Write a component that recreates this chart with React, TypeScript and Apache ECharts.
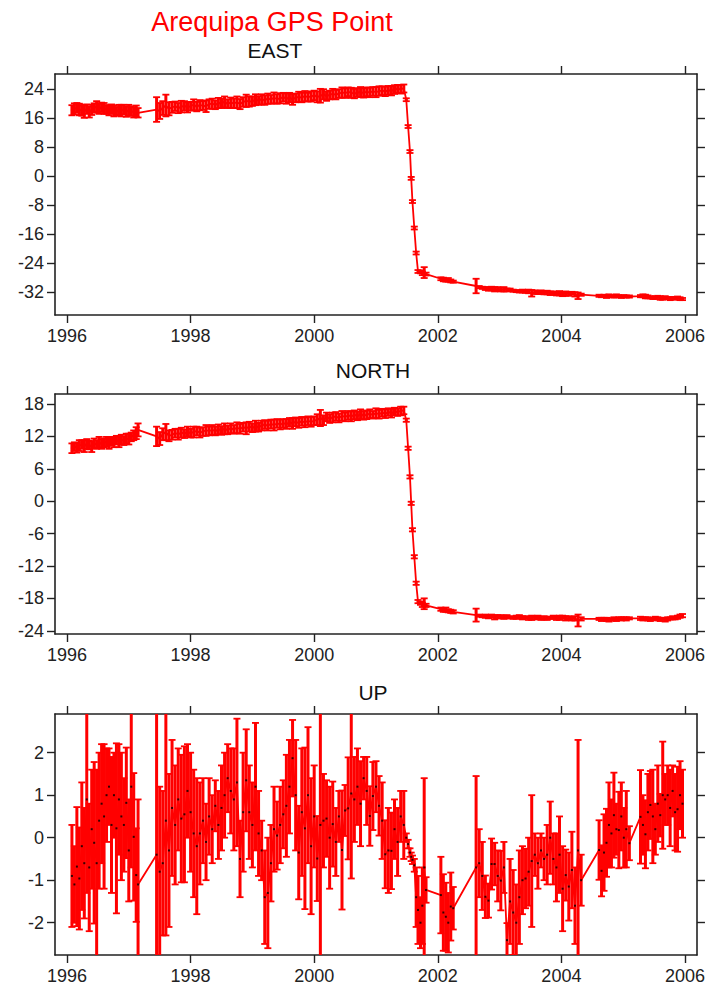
import React, { useEffect, useRef } from 'react';
import * as echarts from 'echarts';

// ---------- DATA ----------
const mainTitle = 'Arequipa GPS Point';
const panelTitles = ['EAST', 'NORTH', 'UP'];

const xTicks = [1996, 1998, 2000, 2002, 2004, 2006];
const eastTicks = [-32, -24, -16, -8, 0, 8, 16, 24];
const northTicks = [-24, -18, -12, -6, 0, 6, 12, 18];
const upTicks = [-2, -1, 0, 1, 2];

// epochs (decimal years)
const years = [
  // 1996.08 - 1997.15
  1996.08, 1996.12, 1996.16, 1996.20, 1996.24, 1996.28, 1996.32, 1996.36, 1996.40, 1996.44,
  1996.48, 1996.52, 1996.56, 1996.60, 1996.64, 1996.68, 1996.72, 1996.76, 1996.80, 1996.84,
  1996.88, 1996.92, 1996.96, 1997.00, 1997.04, 1997.08, 1997.12, 1997.15,
  // 1997.45 - 2001.45
  1997.45, 1997.50, 1997.55, 1997.60, 1997.65, 1997.70, 1997.75, 1997.80, 1997.85, 1997.90, 1997.95,
  1998.00, 1998.05, 1998.10, 1998.15, 1998.20, 1998.25, 1998.30, 1998.35, 1998.40, 1998.45,
  1998.50, 1998.55, 1998.60, 1998.65, 1998.70, 1998.75, 1998.80, 1998.85, 1998.90, 1998.95,
  1999.00, 1999.05, 1999.10, 1999.15, 1999.20, 1999.25, 1999.30, 1999.35, 1999.40, 1999.45,
  1999.50, 1999.55, 1999.60, 1999.65, 1999.70, 1999.75, 1999.80, 1999.85, 1999.90, 1999.95,
  2000.00, 2000.05, 2000.10, 2000.15, 2000.20, 2000.25, 2000.30, 2000.35, 2000.40, 2000.45,
  2000.50, 2000.55, 2000.60, 2000.65, 2000.70, 2000.75, 2000.80, 2000.85, 2000.90, 2000.95,
  2001.00, 2001.05, 2001.10, 2001.15, 2001.20, 2001.25, 2001.30, 2001.35, 2001.40, 2001.45,
  // earthquake
  2001.49, 2001.52, 2001.55, 2001.57, 2001.59, 2001.62, 2001.65, 2001.68,
  2001.72, 2001.75, 2001.78, 2001.81,
  2002.05, 2002.09, 2002.13, 2002.17, 2002.21, 2002.25,
  // 2002.62 - 2004.32
  2002.62, 2002.67, 2002.72, 2002.77, 2002.82, 2002.87, 2002.92, 2002.97,
  2003.02, 2003.07, 2003.12, 2003.17, 2003.22, 2003.27, 2003.32, 2003.37, 2003.42, 2003.47,
  2003.52, 2003.57, 2003.62, 2003.67, 2003.72, 2003.77, 2003.82, 2003.87, 2003.92, 2003.97,
  2004.02, 2004.07, 2004.12, 2004.17, 2004.22, 2004.27, 2004.32,
  // 2004.61 - 2005.10
  2004.61, 2004.65, 2004.69, 2004.73, 2004.77, 2004.81, 2004.85, 2004.89, 2004.93, 2004.97,
  2005.01, 2005.05, 2005.10,
  // 2005.28 - 2005.96
  2005.28, 2005.32, 2005.36, 2005.40, 2005.44, 2005.48, 2005.52, 2005.56, 2005.60, 2005.64,
  2005.68, 2005.72, 2005.76, 2005.80, 2005.84, 2005.88, 2005.92, 2005.96,
];

const east = [
  18.2, 18.6, 18.9, 18.4, 18.1, 17.9, 18.5, 17.7, 18.3, 18.9,
  19.1, 18.6, 19.0, 18.7, 18.4, 18.2, 18.5, 18.0, 17.9, 18.3,
  18.1, 18.4, 17.8, 18.2, 18.0, 17.6, 17.9, 17.5,
  18.4, 18.0, 18.8, 19.5, 18.6, 19.0, 19.3, 18.8, 19.2, 19.4, 19.0,
  19.3, 19.7, 19.2, 19.6, 19.5, 19.3, 19.9, 20.0, 19.7, 20.2,
  20.1, 20.5, 20.0, 20.3, 20.1, 20.4, 19.9, 20.5, 20.8, 20.6,
  20.7, 21.1, 20.9, 21.2, 21.0, 21.4, 21.2, 21.6, 21.3, 21.5,
  21.8, 21.4, 21.7, 21.2, 21.6, 21.9, 21.7, 22.1, 21.8, 22.0,
  22.3, 21.9, 22.2, 22.6, 22.1, 22.4, 22.7, 22.5, 22.8, 23.1,
  22.9, 23.3, 23.0, 22.8, 23.1, 23.2, 23.0, 23.3, 23.1, 23.4,
  23.2, 23.5, 23.6, 23.4, 23.7, 23.6, 23.9, 24.1, 24.0, 24.2,
  21.1, 13.7, 6.8, -0.6, -7.0, -14.3, -21.2, -26.3,
  -26.4, -26.8, -26.6, -27.0,
  -28.3, -28.5, -28.7, -28.6, -28.9, -29.1,
  -30.3, -30.6, -30.8, -31.0, -31.1, -31.0, -31.2, -31.1,
  -31.3, -31.2, -31.4, -31.3, -31.6, -31.7, -31.8, -31.7, -31.9, -31.8,
  -32.3, -32.0, -32.1, -32.0, -32.2, -32.1, -32.3, -32.2, -32.4, -32.3,
  -32.6, -32.4, -32.5, -32.3, -32.6, -33.0, -32.7,
  -33.0, -33.1, -33.0, -33.2, -32.9, -33.1, -33.2, -33.0, -33.1, -33.3,
  -33.1, -33.2, -33.2,
  -33.1, -33.0, -33.2, -33.3, -33.4, -33.6, -33.5, -33.3, -33.6, -33.7,
  -33.5, -33.6, -33.8, -33.6, -33.7, -33.5, -33.8, -33.9,
];

const eastErr = [
  1.4, 1.5, 1.3, 1.6, 1.4, 1.8, 1.3, 1.5, 1.4, 1.2,
  1.6, 1.4, 1.3, 1.5, 1.2, 1.4, 1.3, 1.5, 1.2, 1.4,
  1.6, 1.3, 1.4, 1.5, 1.3, 1.4, 1.6, 1.3,
  3.4, 2.2, 1.9, 3.0, 1.8, 1.5, 1.3, 1.4, 1.6, 1.3, 1.4,
  1.2, 1.5, 1.3, 1.4, 1.2, 1.6, 1.3, 1.4, 1.2, 1.4,
  1.3, 1.5, 1.2, 1.4, 1.3, 1.6, 1.4, 1.3, 1.7, 1.4,
  1.3, 1.5, 1.2, 1.4, 1.3, 1.4, 1.2, 1.5, 1.3, 1.4,
  1.2, 1.4, 1.3, 1.5, 1.2, 1.4, 1.3, 1.4, 1.2, 1.4,
  1.3, 1.5, 1.9, 1.4, 1.3, 1.2, 1.4, 1.3, 1.2, 1.4,
  1.3, 1.2, 1.4, 1.3, 1.2, 1.4, 1.3, 1.2, 1.3, 1.2,
  1.4, 1.3, 1.2, 1.3, 1.2, 1.3, 1.2, 1.1, 1.2, 1.1,
  0.4, 0.4, 0.4, 0.4, 0.4, 0.4, 0.4, 0.4,
  0.4, 0.5, 1.5, 0.4,
  0.4, 0.5, 0.4, 0.5, 0.4, 0.3,
  2.0, 0.3, 0.3, 0.4, 0.5, 0.5, 0.6, 0.5,
  0.5, 0.6, 0.4, 0.3, 0.3, 0.3, 0.3, 0.4, 0.3, 0.5,
  0.9, 0.5, 0.4, 0.5, 0.4, 0.5, 0.5, 0.4, 0.5, 0.6,
  0.5, 0.6, 0.5, 0.4, 0.6, 0.9, 0.3,
  0.3, 0.3, 0.3, 0.4, 0.3, 0.3, 0.3, 0.4, 0.3, 0.3,
  0.3, 0.3, 0.3,
  0.3, 0.4, 0.5, 0.4, 0.3, 0.3, 0.4, 0.3, 0.5, 0.4,
  0.4, 0.3, 0.4, 0.3, 0.4, 0.3, 0.4, 0.3,
];

const north = [
  9.8, 10.1, 9.9, 10.3, 10.5, 10.2, 10.6, 10.4, 10.1, 10.7,
  10.5, 10.9, 10.6, 10.8, 11.0, 10.7, 11.1, 10.9, 11.3, 11.0,
  11.4, 11.2, 11.6, 11.5, 11.9, 12.2, 12.6, 13.2,
  12.0, 11.6, 12.4, 12.8, 12.1, 12.3, 12.6, 12.4, 12.7, 12.5, 12.9,
  12.6, 12.8, 13.0, 12.7, 12.9, 13.1, 13.0, 13.2, 13.0, 13.3,
  13.1, 13.4, 13.2, 13.5, 13.3, 13.6, 13.4, 13.7, 13.5, 13.8,
  13.6, 13.9, 13.7, 14.0, 14.2, 14.0, 14.3, 14.1, 14.4, 14.2,
  14.4, 14.3, 14.6, 14.4, 14.7, 14.5, 14.8, 14.6, 14.9, 14.7,
  14.9, 15.1, 15.4, 15.0, 15.6, 15.3, 15.5, 15.7, 15.4, 15.8,
  15.6, 15.9, 15.7, 16.0, 15.8, 16.1, 15.9, 16.0, 16.2, 16.0,
  16.3, 16.1, 16.4, 16.2, 16.5, 16.3, 16.6, 16.5, 16.7, 16.8,
  15.0, 9.8, 4.5, -0.4, -5.3, -10.3, -15.2, -18.6,
  -18.9, -19.2, -19.0, -19.3,
  -20.0, -20.2, -20.1, -20.3, -20.4, -20.5,
  -21.1, -21.2, -21.3, -21.3, -21.4, -21.3, -21.5, -21.4,
  -21.4, -21.5, -21.4, -21.5, -21.6, -21.5, -21.4, -21.6, -21.5, -21.7,
  -21.6, -21.6, -21.5, -21.7, -21.6, -21.7, -21.6, -21.5, -21.7, -21.6,
  -21.5, -21.7, -21.6, -21.8, -21.7, -22.1, -21.8,
  -21.8, -21.9, -21.8, -21.9, -22.0, -21.9, -21.8, -21.9, -21.7, -21.8,
  -21.7, -21.8, -21.7,
  -21.7, -21.8, -21.7, -21.8, -21.9, -21.8, -21.7, -21.8, -21.9, -21.8,
  -22.0, -21.8, -21.7, -21.6, -21.7, -21.5, -21.3, -21.2,
];

const northErr = [
  0.9, 0.8, 0.9, 1.0, 0.8, 1.1, 0.9, 0.8, 1.0, 0.9,
  0.8, 1.0, 0.9, 0.8, 0.9, 1.0, 0.8, 0.9, 0.8, 1.0,
  0.9, 0.8, 0.9, 1.0, 0.8, 0.9, 1.1, 1.2,
  1.8, 1.2, 1.1, 1.5, 1.0, 0.9, 0.8, 1.0, 0.9, 0.8, 0.9,
  0.8, 1.0, 0.8, 0.9, 0.8, 1.0, 0.8, 0.9, 0.8, 0.9,
  0.8, 1.0, 0.8, 0.9, 0.8, 1.0, 0.9, 0.8, 1.1, 0.9,
  0.8, 1.0, 0.8, 0.9, 0.8, 0.9, 0.8, 1.0, 0.8, 0.9,
  0.8, 0.9, 0.8, 1.0, 0.8, 0.9, 0.8, 0.9, 0.8, 0.9,
  0.8, 1.0, 1.5, 0.9, 0.8, 0.8, 0.9, 0.8, 0.8, 0.9,
  0.8, 0.8, 0.9, 0.8, 0.8, 0.9, 0.8, 0.8, 0.8, 0.7,
  0.9, 0.8, 0.7, 0.8, 0.7, 0.8, 0.7, 0.7, 0.8, 0.7,
  0.3, 0.3, 0.3, 0.3, 0.3, 0.3, 0.3, 0.3,
  0.3, 0.4, 1.0, 0.3,
  0.3, 0.3, 0.4, 0.3, 0.3, 0.3,
  1.2, 0.2, 0.2, 0.3, 0.3, 0.3, 0.4, 0.3,
  0.3, 0.3, 0.3, 0.2, 0.2, 0.3, 0.3, 0.3, 0.2, 0.3,
  0.4, 0.3, 0.3, 0.3, 0.3, 0.3, 0.2, 0.3, 0.3, 0.4,
  0.3, 0.4, 0.3, 0.3, 0.4, 1.1, 0.3,
  0.2, 0.3, 0.2, 0.3, 0.3, 0.2, 0.3, 0.3, 0.2, 0.3,
  0.2, 0.3, 0.2,
  0.3, 0.3, 0.2, 0.3, 0.3, 0.2, 0.3, 0.3, 0.3, 0.2,
  0.3, 0.3, 0.2, 0.3, 0.2, 0.3, 0.3, 0.3,
];

const up = [
  -0.9, -1.1, -0.68, -0.96, -0.2, -0.6, 0.9, -0.7, 0.2, -0.12,
  -0.6, 0.4, 0.8, 0.5, 1.0, 1.2, 0.3, 1.0, 0.22, 0.9,
  0.5, 0.3, 0.82, -0.3, 1.2, 0.02, -0.88, -1.1,
  -0.4, -0.8, -0.6, 0.4, -0.3, 0.7, 0.3, 0.9, 0.45, 0.55, 1.1,
  0.6, 0.1, -0.2, 0.1, 0.4, -0.1, 0.5, 0.2, 0.75, 0.3,
  0.7, 1.0, 1.4, 1.1, 0.9, 1.3, -0.5, 0.6, 1.35, 0.6,
  0.3, 1.2, 0.1, -0.3, -1.4, -1.3, -0.6, 0.2, 0.05, 0.3,
  0.55, 0.75, 1.2, 1.87, 1.0, -0.35, 0.6, 0.22, 1.0, -0.2,
  0.5, -0.49, 0.3, 0.4, 0.45, 0.0, 0.32, -0.1, 0.5, -0.29,
  0.64, 0.69, 1.04, 0.9, 1.2, 0.8, 1.4, 1.1, 0.51, 0.98,
  1.2, 0.75, 0.4, -0.39, -0.3, -0.31, 0.2, -0.1, 0.5, 0.3,
  0.0, -0.15, -0.35, -0.45, -0.52, -0.65, -1.4, -1.7,
  -2.0, -1.6, -0.7, -1.23,
  -1.35, -1.76, -1.86, -2.0, -1.62, -1.66,
  -0.7, -0.6, -0.9, -1.39, -1.48, -0.62, -0.62, -0.9,
  -1.01, -0.7, -2.41, -1.5, -1.76, -2.0, -1.4, -1.0, -0.96, -0.8,
  -0.55, -0.4, -0.6, -0.3, -0.5, -0.4, 0.0, -0.5, -0.7, -0.4,
  -1.2, -0.88, -1.15, -0.76, -1.6, -0.3, -1.0,
  -0.29, -0.78, -0.35, -0.12, 0.3, 0.1, 0.53, 0.2, 0.18, 0.5,
  0.0, 0.2, -0.13,
  0.49, 0.3, 0.08, 0.6, 0.77, 0.5, 0.2, 0.8, 0.53, 1.0,
  0.9, 1.0, 0.7, 1.1, 0.6, 0.67, 1.0, 0.8,
];

const upErr = [
  1.2, 0.9, 1.4, 1.2, 1.5, 1.3, 2.2, 1.5, 1.4, 1.9,
  2.2, 1.6, 1.4, 1.7, 1.1, 0.9, 1.6, 1.0, 2.0, 1.3,
  1.5, 1.1, 1.3, 1.2, 1.9, 1.5, 1.1, 2.0,
  3.5, 2.0, 1.7, 2.7, 1.8, 1.6, 1.4, 1.2, 1.5, 1.6, 1.1,
  1.4, 1.5, 1.6, 1.2, 1.0, 0.9, 0.9, 0.8, 0.6, 0.8,
  1.0, 1.0, 0.8, 1.0, 1.2, 1.5, 0.9, 1.4, 1.2, 1.1,
  1.0, 1.5, 1.0, 0.7, 1.1, 1.3, 0.9, 1.0, 0.8, 0.9,
  0.8, 1.2, 1.1, 0.9, 1.3, 1.1, 1.5, 1.9, 1.6, 1.6,
  1.2, 1.0, 3.3, 1.1, 0.9, 1.2, 1.0, 0.8, 0.6, 1.4,
  0.6, 1.2, 2.0, 1.0, 0.9, 1.0, 0.5, 0.8, 0.7, 0.8,
  0.6, 0.7, 0.9, 0.8, 1.0, 0.9, 0.7, 0.8, 0.6, 0.8,
  0.1, 0.1, 0.1, 0.1, 0.1, 0.15, 0.7, 0.8,
  0.6, 0.9, 2.1, 0.3,
  0.9, 0.9, 0.8, 0.7, 0.8, 0.5,
  2.15, 0.8, 0.8, 0.5, 0.4, 0.6, 0.5, 0.6,
  0.7, 0.6, 0.4, 1.0, 1.0, 0.9, 1.1, 0.8, 0.7, 0.8,
  1.55, 0.5, 0.6, 0.4, 0.5, 0.7, 0.85, 0.6, 0.8, 0.9,
  1.0, 0.6, 0.8, 0.9, 0.9, 2.6, 0.6,
  0.7, 0.6, 0.9, 0.8, 1.0, 0.8, 1.0, 0.6, 0.9, 0.8,
  0.7, 0.9, 0.4,
  1.1, 0.7, 0.8, 0.9, 0.8, 1.1, 0.6, 0.9, 0.5, 1.26,
  0.6, 0.7, 0.9, 0.6, 0.9, 1.0, 0.8, 0.8,
];

// ---------- LAYOUT / STYLE ----------
const FONT = "'Liberation Sans', Arial, Helvetica, sans-serif";
const RED = '#ff0000';
const AXIS = '#222222';
const X_MIN = 1995.806;
const X_MAX = 2006.194;

const panels = [
  { title: panelTitles[0], vals: east, errs: eastErr, ticks: eastTicks, min: -38.3, max: 28.2, top: 74, height: 241, titleX: 275, titleY: 50, dotsOnTop: false },
  { title: panelTitles[1], vals: north, errs: northErr, ticks: northTicks, min: -24.6, max: 19.85, top: 394, height: 240, titleX: 373, titleY: 370, dotsOnTop: false },
  { title: panelTitles[2], vals: up, errs: upErr, ticks: upTicks, min: -2.76, max: 2.91, top: 714, height: 241, titleX: 373, titleY: 692, dotsOnTop: true },
];

function buildOption() {
  const axisLine = { show: true, onZero: false, lineStyle: { color: AXIS, width: 1.6 } };
  const tickStyle = { color: AXIS, width: 1.4 };
  const labelStyle = { color: '#222', fontSize: 18, fontFamily: FONT };

  const grid = panels.map((p) => ({ left: 55, right: 10, top: p.top, height: p.height, show: false }));

  const xAxis: any[] = [];
  const yAxis: any[] = [];
  const series: any[] = [];

  panels.forEach((p, i) => {
    xAxis.push({
      type: 'value', gridIndex: i, position: 'bottom', min: X_MIN, max: X_MAX,
      axisLine, splitLine: { show: false },
      axisTick: { show: true, inside: false, length: 8, customValues: xTicks, lineStyle: tickStyle },
      axisLabel: { show: true, customValues: xTicks, margin: 12, formatter: (v: number) => String(Math.round(v)), ...labelStyle },
    });
    xAxis.push({
      type: 'value', gridIndex: i, position: 'top', min: X_MIN, max: X_MAX,
      axisLine, splitLine: { show: false },
      axisTick: { show: true, inside: false, length: 8, customValues: xTicks, lineStyle: tickStyle },
      axisLabel: { show: false },
    });
    yAxis.push({
      type: 'value', gridIndex: i, position: 'left', min: p.min, max: p.max,
      axisLine, splitLine: { show: false },
      axisTick: { show: true, inside: false, length: 8, customValues: p.ticks, lineStyle: tickStyle },
      axisLabel: { show: true, customValues: p.ticks, margin: 11, formatter: (v: number) => String(Math.round(v)), ...labelStyle },
    });
    yAxis.push({
      type: 'value', gridIndex: i, position: 'right', min: p.min, max: p.max,
      axisLine, splitLine: { show: false },
      axisTick: { show: true, inside: false, length: 8, customValues: p.ticks, lineStyle: tickStyle },
      axisLabel: { show: false },
    });

    const pts: number[][] = [];
    const bars: number[][] = [];
    years.forEach((t, k) => {
      const v = p.vals[k];
      const e = p.errs[k];
      if (v === undefined) return;
      pts.push([t, v]);
      if (e !== undefined) bars.push([t, v - e, v + e]);
    });

    series.push({
      type: 'line', xAxisIndex: 2 * i, yAxisIndex: 2 * i, data: pts,
      symbol: 'none', silent: true, clip: true, z: 2,
      lineStyle: { color: RED, width: 1.8 },
    });
    series.push({
      type: 'custom', xAxisIndex: 2 * i, yAxisIndex: 2 * i, data: bars,
      clip: true, silent: true, z: 3,
      encode: { x: 0, y: [1, 2] },
      renderItem: (_params: any, api: any) => {
        const x = api.value(0);
        const lo = api.coord([x, api.value(1)]);
        const hi = api.coord([x, api.value(2)]);
        const hw = 3.5;
        const st = { stroke: RED, lineWidth: 3 };
        const cap = { stroke: RED, lineWidth: 1.8 };
        return {
          type: 'group',
          children: [
            { type: 'line', shape: { x1: lo[0], y1: lo[1], x2: hi[0], y2: hi[1] }, style: st },
            { type: 'line', shape: { x1: lo[0] - hw, y1: lo[1], x2: lo[0] + hw, y2: lo[1] }, style: cap },
            { type: 'line', shape: { x1: hi[0] - hw, y1: hi[1], x2: hi[0] + hw, y2: hi[1] }, style: cap },
          ],
        };
      },
    });
    series.push({
      type: 'scatter', xAxisIndex: 2 * i, yAxisIndex: 2 * i, data: pts,
      symbol: 'rect', symbolSize: 2, silent: true, clip: true,
      itemStyle: { color: '#000' }, z: p.dotsOnTop ? 4 : 1,
    });
  });

  const title: any[] = [
    {
      text: mainTitle, left: 272, top: 22, textAlign: 'center', textVerticalAlign: 'middle', padding: 0,
      textStyle: { color: RED, fontSize: 27, fontWeight: 'normal', fontFamily: FONT },
    },
    ...panels.map((p) => ({
      text: p.title, left: p.titleX, top: p.titleY, textAlign: 'center', textVerticalAlign: 'middle', padding: 0,
      textStyle: { color: '#111', fontSize: 21, fontWeight: 'normal', fontFamily: FONT },
    })),
  ];

  return {
    animation: false,
    backgroundColor: '#ffffff',
    title,
    grid,
    xAxis,
    yAxis,
    series,
  };
}

export default function App() {
  const ref = useRef<HTMLDivElement>(null);
  useEffect(() => {
    if (!ref.current) return;
    const chart = echarts.init(ref.current, null, { renderer: 'svg' });
    chart.setOption(buildOption() as any);
    return () => chart.dispose();
  }, []);
  return (
    <div
      ref={ref}
      style={{ position: 'fixed', left: 0, top: 0, width: 708, height: 989, background: '#fff' }}
    />
  );
}
